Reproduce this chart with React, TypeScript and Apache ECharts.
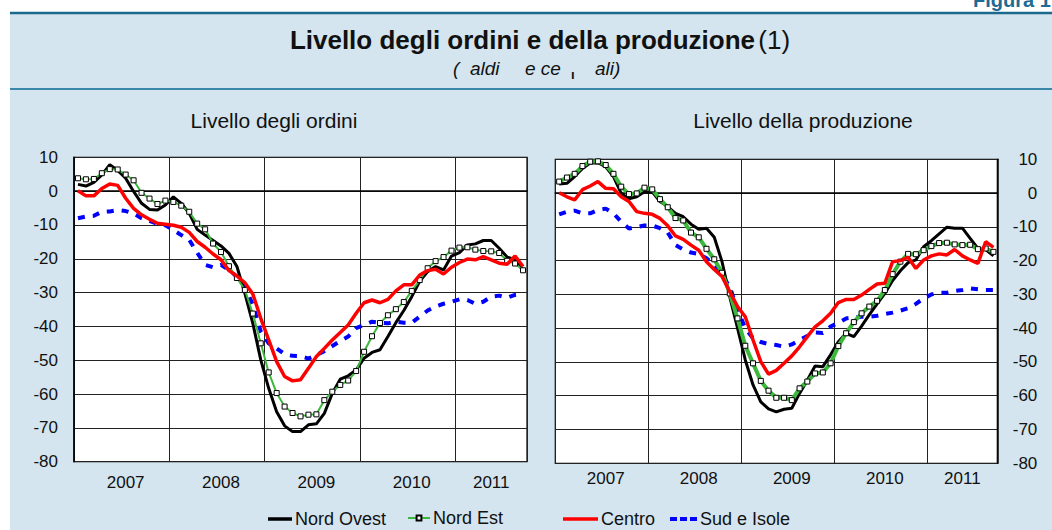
import React, { useEffect, useRef } from 'react';
import * as echarts from 'echarts';

const FONT = '"Liberation Sans", Arial, Helvetica, sans-serif';

// Monthly observations, Jan 2007 – Sep 2011
const years = ['2007', '2008', '2009', '2010', '2011'];
const monthsPerYear = [12, 12, 12, 12, 9];
const months: string[] = [];
years.forEach((y, k) => {
  for (let m = 1; m <= monthsPerYear[k]; m++) months.push(`${y}-${String(m).padStart(2, '0')}`);
});
// index of the month under which each year label is centred
const yearLabelIdx: number[] = [];
{
  let start = 0;
  monthsPerYear.forEach((n) => {
    yearLabelIdx.push(Math.round((start + start + n - 1) / 2));
    start += n;
  });
}

const yMin = -80;
const yMax = 10;
const yStep = 10;

// Livello degli ordini
const ordiniNordOvest = [2.0, 1.5, 2.6, 4.8, 7.8, 6.1, 3.8, -0.1, -3.6, -5.4, -5.6, -4.1, -1.7, -3.6, -6.6, -11.3, -13.0, -14.6, -16.2, -18.4, -22.3, -30.2, -39.1, -49.9, -58.3, -65.2, -69.4, -71.1, -71.1, -69.1, -68.8, -65.7, -59.8, -55.6, -54.6, -52.9, -49.4, -47.7, -46.9, -43.0, -38.9, -35.3, -31.2, -26.7, -23.8, -22.3, -23.3, -19.2, -18.2, -15.9, -15.6, -14.6, -14.6, -16.9, -19.5, -20.3, -23.4];
const ordiniNordEst = [3.8, 3.5, 3.6, 5.3, 6.5, 6.4, 4.9, 3.2, -0.5, -2.2, -3.8, -2.8, -3.2, -4.3, -6.1, -9.6, -11.3, -15.5, -18.0, -22.2, -25.7, -29.2, -36.2, -45.0, -53.6, -59.7, -63.7, -65.6, -66.6, -66.1, -66.0, -61.8, -59.3, -57.3, -56.0, -53.2, -47.5, -42.9, -39.0, -36.7, -34.9, -32.8, -29.5, -26.3, -22.8, -20.7, -19.5, -17.6, -16.7, -16.6, -17.3, -17.7, -17.8, -18.3, -20.6, -21.4, -23.4];
const ordiniCentro = [0.1, -1.4, -1.4, 0.8, 2.1, 1.7, -2.1, -5.1, -7.0, -8.3, -9.5, -9.8, -10.1, -10.7, -12.2, -14.9, -16.6, -18.6, -20.3, -23.5, -25.1, -27.1, -30.4, -37.6, -44.0, -50.4, -54.8, -56.1, -55.8, -52.4, -48.9, -46.5, -44.0, -41.8, -39.6, -36.1, -33.0, -32.2, -33.0, -32.0, -29.5, -27.7, -27.7, -24.8, -23.5, -23.1, -24.5, -22.5, -21.1, -20.1, -20.3, -19.4, -20.3, -21.3, -21.6, -19.2, -22.3];
const ordiniSud = [-8.0, -7.5, -7.3, -6.1, -6.0, -5.6, -5.9, -6.6, -8.0, -8.8, -9.7, -10.1, -11.5, -13.0, -14.4, -18.2, -21.8, -22.5, -21.8, -23.3, -25.3, -28.2, -33.6, -41.5, -45.0, -46.5, -48.2, -48.7, -48.8, -49.5, -48.5, -47.3, -45.8, -44.3, -43.0, -40.5, -39.6, -38.6, -38.9, -39.1, -38.6, -38.9, -38.9, -37.1, -35.3, -34.1, -33.3, -32.7, -32.0, -32.2, -33.3, -32.7, -31.2, -30.9, -31.5, -30.7, -30.5];

// Livello della produzione
const prodNordOvest = [2.7, 2.9, 4.9, 7.3, 8.9, 9.0, 7.8, 4.9, -0.1, -1.7, -1.1, 0.4, 0.4, -2.5, -4.0, -6.0, -7.0, -9.2, -10.7, -10.4, -13.1, -20.3, -30.7, -40.0, -49.4, -56.8, -61.8, -63.9, -64.8, -64.0, -63.7, -59.3, -55.4, -51.2, -51.4, -47.9, -44.0, -41.5, -42.5, -39.4, -36.0, -32.8, -29.7, -25.9, -23.0, -20.6, -19.8, -15.9, -14.1, -12.1, -10.1, -10.4, -10.4, -13.4, -16.4, -16.7, -18.6];
const prodNordEst = [3.4, 4.6, 5.7, 8.0, 9.3, 9.4, 8.3, 5.7, 1.9, -0.3, -0.1, 1.6, 1.1, -1.8, -4.2, -7.4, -8.1, -11.7, -13.1, -16.5, -19.6, -23.6, -29.7, -37.1, -45.2, -50.4, -55.6, -58.5, -60.6, -60.6, -61.3, -57.8, -55.8, -53.4, -53.1, -50.4, -45.3, -41.5, -38.2, -35.6, -33.6, -31.9, -28.7, -24.0, -20.3, -18.0, -18.1, -16.9, -15.7, -14.8, -14.7, -15.2, -15.4, -15.3, -16.6, -16.4, -17.4];
const prodCentro = [0.1, -1.1, -2.0, 1.0, 2.1, 3.4, 1.4, 1.3, -1.1, -2.5, -5.5, -6.0, -6.3, -7.5, -9.7, -12.7, -13.7, -15.4, -16.9, -20.3, -22.6, -24.7, -29.2, -33.6, -36.6, -43.5, -49.9, -53.6, -52.5, -50.4, -48.2, -45.5, -42.5, -39.6, -37.8, -35.6, -32.4, -31.5, -31.5, -30.2, -28.5, -26.9, -26.7, -20.3, -20.0, -19.0, -22.3, -19.8, -18.6, -18.0, -18.3, -16.7, -18.6, -19.8, -20.8, -14.4, -16.1];
const prodSud = [-6.3, -5.5, -5.2, -6.0, -6.0, -5.0, -4.6, -6.0, -8.5, -10.5, -10.1, -9.6, -9.6, -10.4, -11.7, -15.4, -16.7, -17.6, -18.0, -19.3, -21.3, -24.3, -27.7, -34.6, -40.0, -43.0, -44.1, -44.7, -45.0, -45.5, -44.8, -43.5, -42.3, -41.3, -41.4, -39.5, -38.4, -37.1, -36.8, -36.6, -36.6, -36.3, -35.8, -35.4, -34.8, -34.1, -32.8, -31.2, -30.0, -29.5, -29.5, -29.0, -28.7, -28.2, -28.5, -28.7, -28.7];

const names = ['Nord Ovest', 'Nord Est', 'Centro', 'Sud e Isole'];
const panelTitles = ['Livello degli ordini', 'Livello della produzione'];

const BG = '#d4e5ef';
const GRID_LINE = '#222';

function xAxisFor(gridIndex: number, labelMargin: number) {
  return {
    type: 'category',
    gridIndex,
    data: months,
    boundaryGap: true,
    axisLine: { show: true, lineStyle: { color: '#000', width: 1.5 } },
    axisTick: { show: false },
    axisLabel: {
      interval: (i: number) => yearLabelIdx.includes(i),
      formatter: (v: string) => v.slice(0, 4),
      fontSize: 17,
      fontFamily: FONT,
      color: '#111',
      margin: labelMargin,
    },
    splitLine: {
      show: true,
      interval: (i: number) => i % 12 === 0,
      lineStyle: { color: GRID_LINE, width: 1 },
    },
  };
}

function yAxisFor(gridIndex: number, right: boolean) {
  return {
    type: 'value',
    gridIndex,
    position: right ? 'right' : 'left',
    min: yMin,
    max: yMax,
    interval: yStep,
    axisLine: { show: true, lineStyle: { color: '#000', width: 1.5 } },
    axisTick: { show: false },
    axisLabel: {
      fontSize: 17,
      fontFamily: FONT,
      color: '#111',
      margin: right ? 40 : 16,
      align: 'right',
    },
    splitLine: { show: true, lineStyle: { color: GRID_LINE, width: 1 } },
  };
}

function seriesFor(gi: number, no: number[], ne: number[], ce: number[], sud: number[], greenWidth: number) {
  return [
    {
      name: names[3], type: 'line', xAxisIndex: gi, yAxisIndex: gi, data: sud,
      symbol: 'none', itemStyle: { color: '#0000ff' },
      lineStyle: { color: '#0000ff', width: 4, type: [7, 8], cap: 'butt' }, z: 2,
    },
    {
      name: names[0], type: 'line', xAxisIndex: gi, yAxisIndex: gi, data: no,
      symbol: 'none', itemStyle: { color: '#000' },
      lineStyle: { color: '#000', width: 3 }, z: 3,
    },
    {
      name: names[1], type: 'line', xAxisIndex: gi, yAxisIndex: gi, data: ne,
      symbol: 'rect', symbolSize: 5, showSymbol: true, showAllSymbol: true,
      itemStyle: { color: '#fff', borderColor: '#000', borderWidth: 1 },
      lineStyle: { color: '#3cb93c', width: greenWidth }, z: 4,
    },
    {
      name: names[2], type: 'line', xAxisIndex: gi, yAxisIndex: gi, data: ce,
      symbol: 'none', itemStyle: { color: '#ff0000' },
      lineStyle: { color: '#ff0000', width: 3.5 }, z: 5,
    },
  ];
}

function legendFor(name: string, left: number, top: number, itemWidth: number, itemHeight: number, icon?: string) {
  return {
    data: [icon ? { name, icon } : { name }],
    left,
    top,
    padding: 0,
    itemWidth,
    itemHeight,
    selectedMode: false,
    textStyle: { fontSize: 18, fontFamily: FONT, color: '#111', padding: [0, 0, 0, -2] },
  };
}

export default function App() {
  const ref = useRef<HTMLDivElement>(null);
  useEffect(() => {
    if (!ref.current) return;
    const chart = echarts.init(ref.current, undefined, { renderer: 'svg' });
    const option: any = {
      animation: false,
      textStyle: { fontFamily: FONT },
      graphic: [
        { type: 'rect', z: -100, shape: { x: 10, y: 13, width: 1042, height: 517 }, style: { fill: BG } },
        { type: 'line', z: -50, shape: { x1: 10, y1: 13, x2: 1052, y2: 13 }, style: { stroke: '#1b6a8d', lineWidth: 2.5 } },
        { type: 'line', z: -50, shape: { x1: 10, y1: 89, x2: 1052, y2: 89 }, style: { stroke: '#3a87aa', lineWidth: 2 } },
        {
          type: 'text', x: 973, y: 0,
          style: { text: 'Figura 1', fill: '#1f6b93', font: `bold 20px ${FONT}`, verticalAlign: 'middle' },
        },
        {
          type: 'text', x: 540, y: 40,
          style: {
            text: '{b|Livello degli ordini e della produzione} {n|(1)}',
            align: 'center', verticalAlign: 'middle',
            rich: {
              b: { fontSize: 26, fontWeight: 'bold', fontFamily: FONT, fill: '#111' },
              n: { fontSize: 26, fontFamily: FONT, fill: '#111' },
            },
          },
        },
        { type: 'text', x: 453, y: 68, style: { text: '(', font: `italic 19px ${FONT}`, fill: '#111', verticalAlign: 'middle' } },
        { type: 'text', x: 470, y: 68, style: { text: 'aldi', font: `italic 19px ${FONT}`, fill: '#111', verticalAlign: 'middle' } },
        { type: 'text', x: 525, y: 68, style: { text: 'e ce', font: `italic 19px ${FONT}`, fill: '#111', verticalAlign: 'middle' } },
        { type: 'text', x: 571, y: 74, style: { text: '\u0131', font: `bold 13px ${FONT}`, fill: '#111', verticalAlign: 'middle' } },
        { type: 'text', x: 595, y: 68, style: { text: 'ali)', font: `italic 19px ${FONT}`, fill: '#111', verticalAlign: 'middle' } },
        {
          type: 'text', x: 274, y: 120,
          style: { text: panelTitles[0], font: `21px ${FONT}`, fill: '#111', align: 'center', verticalAlign: 'middle' },
        },
        {
          type: 'text', x: 803, y: 120,
          style: { text: panelTitles[1], font: `21px ${FONT}`, fill: '#111', align: 'center', verticalAlign: 'middle' },
        },
      ],
      legend: [
        legendFor(names[0], 268, 510, 24, 3.5, 'rect'),
        legendFor(names[1], 407, 509, 22, 6),
        legendFor(names[2], 563, 510, 35, 3.5, 'rect'),
        legendFor(names[3], 670, 510, 27, 4, 'path://M0,0h7v4h-7zM10,0h7v4h-7zM20,0h7v4h-7z'),
      ],
      grid: [
        { left: 74, top: 157.3, width: 453, height: 304.4, show: true, backgroundColor: '#fff', borderColor: '#000', borderWidth: 1.2 },
        { left: 555.3, top: 159.3, width: 442, height: 304, show: true, backgroundColor: '#fff', borderColor: '#000', borderWidth: 1.2 },
      ],
      xAxis: [xAxisFor(0, 12), xAxisFor(1, 7)],
      yAxis: [yAxisFor(0, false), yAxisFor(1, true)],
      series: [
        ...seriesFor(0, ordiniNordOvest, ordiniNordEst, ordiniCentro, ordiniSud, 2),
        ...seriesFor(1, prodNordOvest, prodNordEst, prodCentro, prodSud, 4),
      ],
    };
    chart.setOption(option);
    return () => chart.dispose();
  }, []);
  return (
    <div
      ref={ref}
      style={{ position: 'absolute', left: 0, top: 0, width: 1052, height: 530, background: '#fff' }}
    />
  );
}
